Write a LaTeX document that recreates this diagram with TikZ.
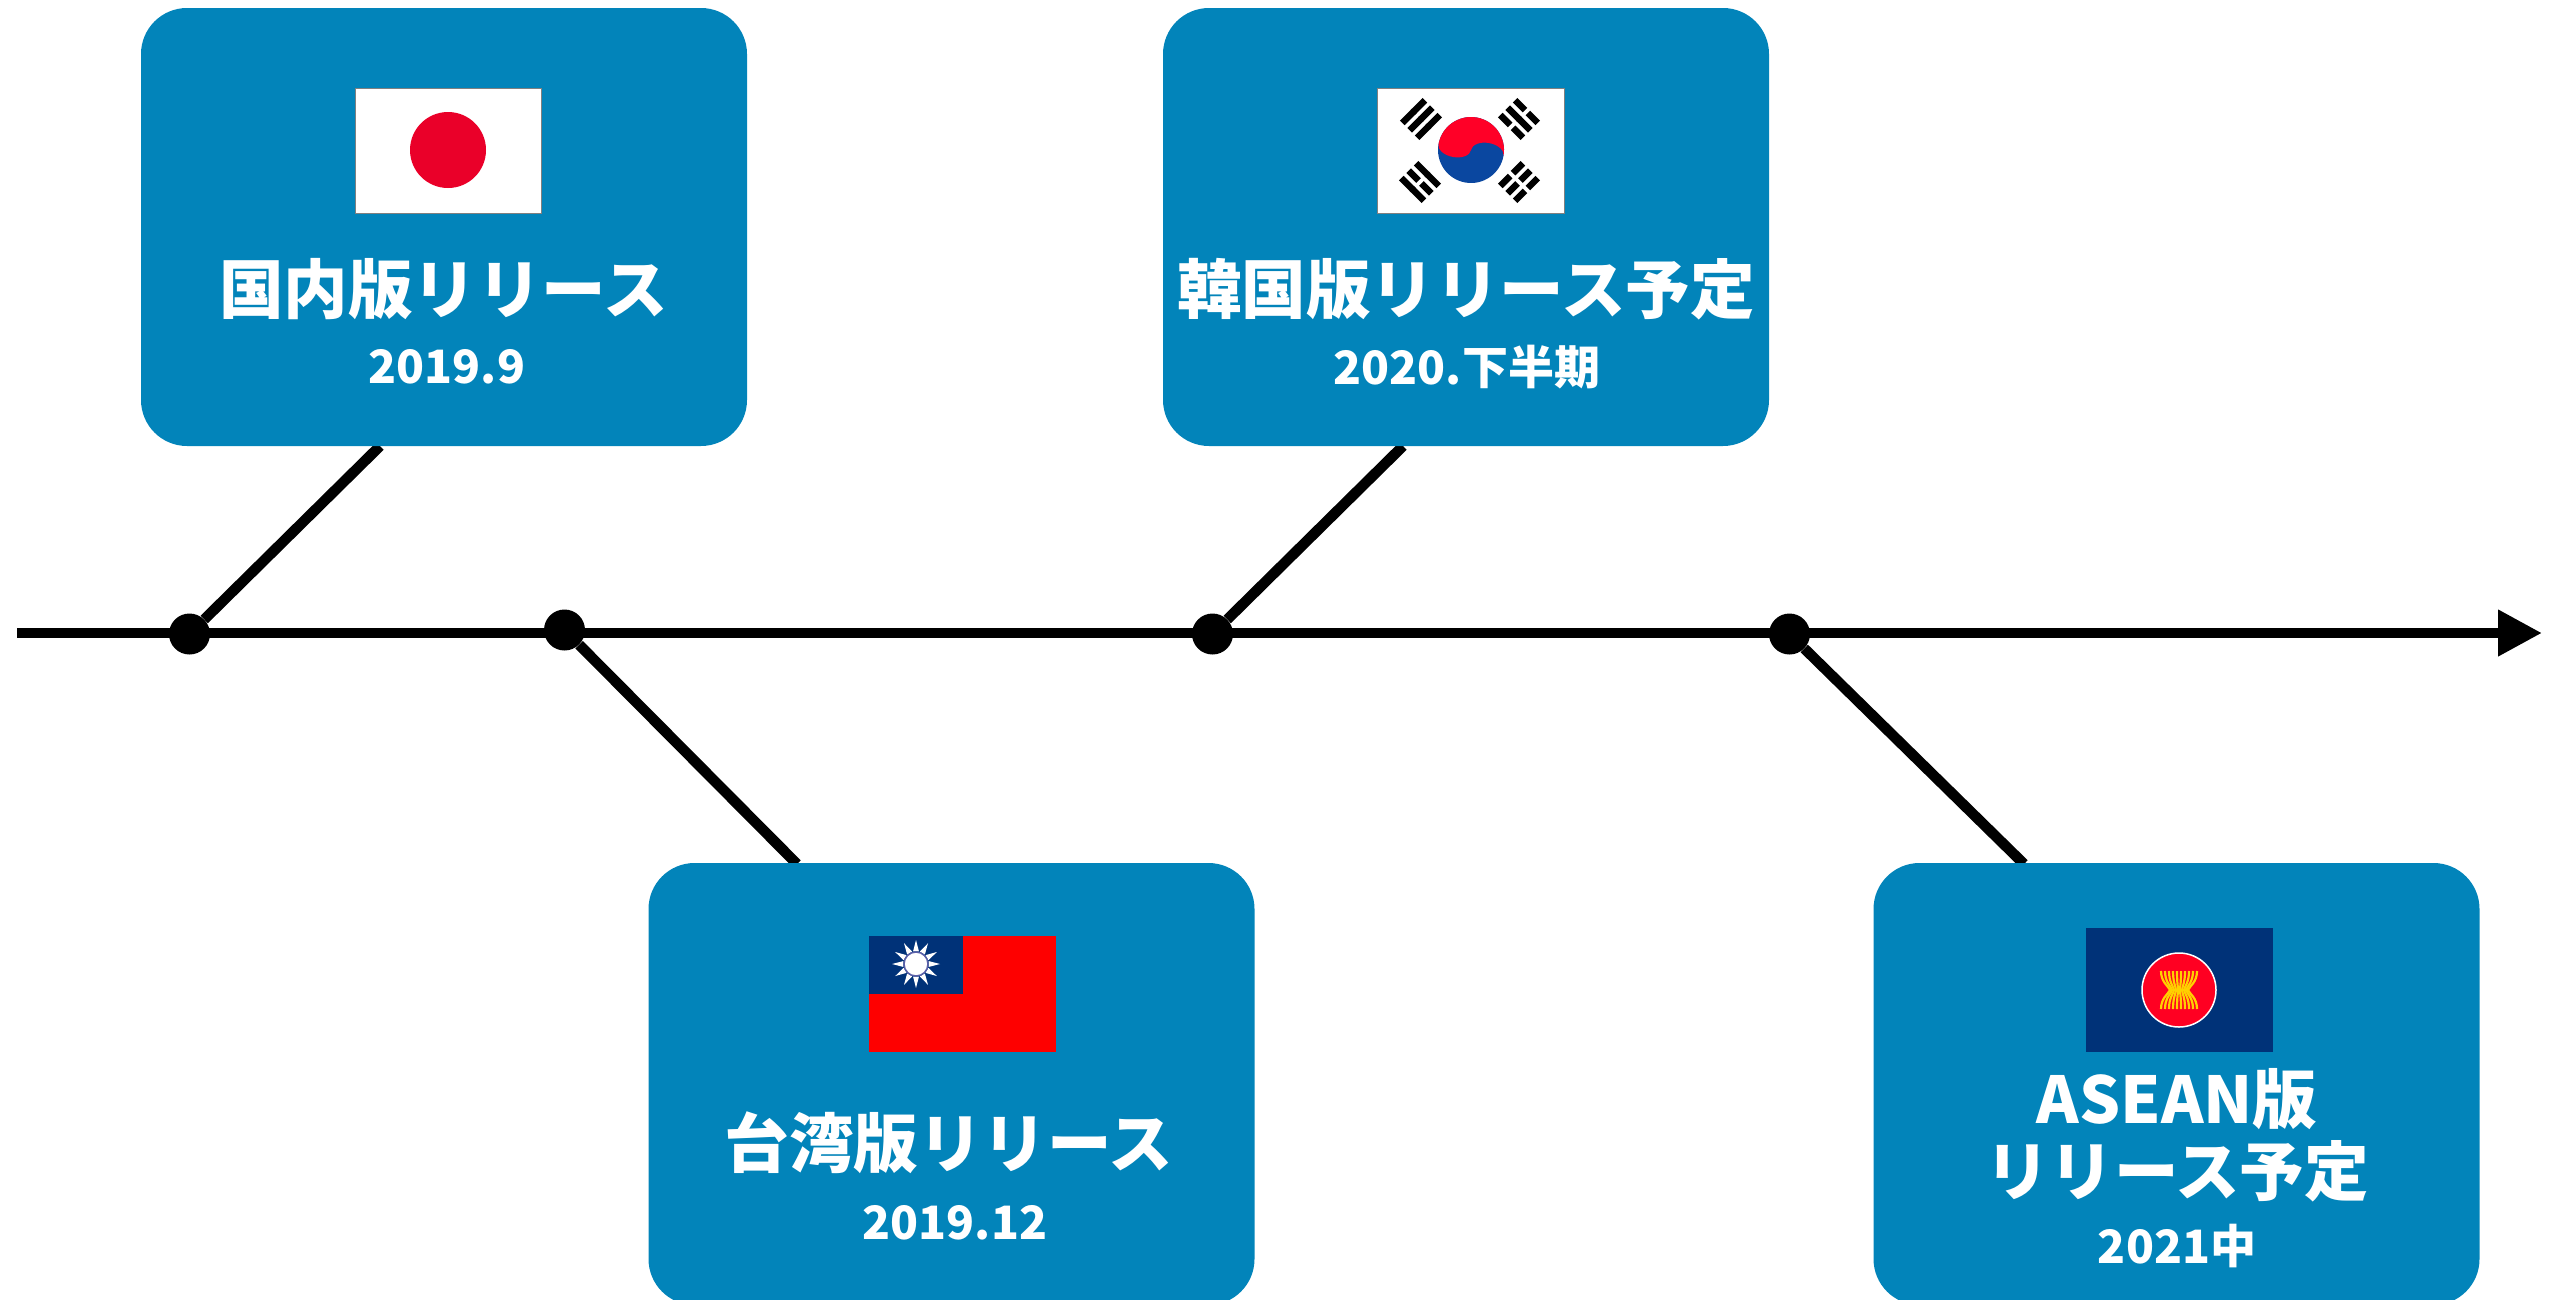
\documentclass[tikz,border=0pt]{standalone}
\usepackage{fontspec}
\setmainfont{Noto Sans CJK JP}
\usetikzlibrary{arrows.meta, backgrounds}

\definecolor{panelblue}{HTML}{0284BA}
\definecolor{navy}{HTML}{003278}
\definecolor{jpred}{HTML}{EA0029}
\definecolor{krred}{HTML}{FF0027}
\definecolor{krblue}{HTML}{0A47A0}
\definecolor{twred}{HTML}{FE0000}
\definecolor{sunring}{HTML}{5A5FA8}
\definecolor{asred}{HTML}{FF0022}
\definecolor{asgold}{HTML}{FFD000}

% one trigram of the Korean flag, gap half-width per bar
\newcommand{\trigram}[6]{
	\begin{scope}[shift={(#1,#2)}, rotate=#3]
		\foreach \offs/\gapw in {-10.5/#4, 0/#5, 10.5/#6} {
			\draw[bar] (-16,\offs) -- (-\gapw,\offs);
			\draw[bar] (\gapw,\offs) -- (16,\offs);
		}
	\end{scope}
}

\begin{document}
\begin{tikzpicture}[x=1pt, y=-1pt,
		panel/.style={rectangle, fill=panelblue, rounded corners=46pt, minimum width=606pt, minimum height=438pt, inner sep=0pt},
		title/.style={text=white, font=\fontsize{64.5}{72}\selectfont\bfseries, align=center, inner sep=0pt},
		subtitle/.style={text=white, font=\fontsize{46}{54}\selectfont\bfseries, inner sep=0pt},
		dotmark/.style={circle, fill=black, minimum size=41pt, inner sep=0pt},
		axisline/.style={line width=10.5pt, black},
		bar/.style={line width=6.5pt, black},
		stalk/.style={line width=2.2pt, asgold},
		flagedge/.style={draw=gray, line width=1pt}]
	\path[use as bounding box, clip] (0,0) rectangle (2564,1299);

	\coordinate (axisL) at (17,633);
	\coordinate (axisR) at (2542,633);
	\coordinate (legJP) at (380,446);
	\coordinate (legTW) at (797,864);
	\coordinate (legKR) at (1403,446);
	\coordinate (legAS) at (2024,864);

	\node[panel] (boxJP) at (444,227) {};
	\node[panel] (boxKR) at (1466,227) {};
	\node[panel, minimum height=442pt] (boxTW) at (951.5,1084) {};
	\node[panel, minimum height=442pt] (boxAS) at (2176.5,1084) {};

	\node[dotmark] (dotJP) at (189.5,634) {};
	\node[dotmark] (dotTW) at (564.5,630) {};
	\node[dotmark] (dotKR) at (1212.5,634) {};
	\node[dotmark] (dotAS) at (1789.5,634) {};

	\begin{scope}[on background layer]
		\draw[axisline, -{Triangle[length=44pt, width=44pt]}] (axisL) -- (axisR);
		\draw[axisline] (dotJP) -- (legJP);
		\draw[axisline] (dotTW) -- (legTW);
		\draw[axisline] (dotKR) -- (legKR);
		\draw[axisline] (dotAS) -- (legAS);
	\end{scope}

	% Japan
	\filldraw[flagedge, fill=white] (355,88) rectangle (541,213);
	\fill[jpred] (448,150) circle (38);
	\node[title] (titleJP) at (443.5,289) {国内版リリース};
	\node[subtitle] (subJP) at (447,367) {2019.9};

	% Korea
	\filldraw[flagedge, fill=white] (1377,88) rectangle (1564,213);
	\begin{scope}[shift={(1471,150)}, rotate=-10]
		\fill[krblue] (0,0) circle (33);
		\fill[krred] (-33,0) arc[start angle=180, end angle=360, radius=33]
			arc[start angle=0, end angle=-180, x radius=16.5, y radius=10]
			arc[start angle=0, end angle=180, x radius=16.5, y radius=10] -- cycle;
	\end{scope}
	\trigram{1421}{119}{45}{-1}{-1}{-1}
	\trigram{1519}{119}{-45}{2}{-1}{2}
	\trigram{1420}{182}{-45}{-1}{2}{-1}
	\trigram{1519}{182}{45}{2}{2}{2}
	\node[title] (titleKR) at (1466,289) {韓国版リリース予定};
	\node[subtitle] (subKR) at (1467,367) {2020.下半期};

	% Taiwan
	\fill[twred] (869,936) rectangle (1056,1052);
	\fill[navy] (869,936) rectangle (963,994);
	\begin{scope}[shift={(916,964)}]
		\foreach \a in {0,30,...,330}
			\fill[white] (\a-13:13) -- (\a:24) -- (\a+13:13) -- cycle;
		\filldraw[draw=sunring, fill=white, line width=1.5pt] (0,0) circle (12);
	\end{scope}
	\node[title] (titleTW) at (949,1143) {台湾版リリース};
	\node[subtitle] (subTW) at (955,1223) {2019.12};

	% ASEAN
	\fill[navy] (2086,928) rectangle (2273,1052);
	\begin{scope}[shift={(2179,990)}]
		\filldraw[draw=white, fill=asred, line width=1.5pt] (0,0) circle (37);
		\foreach \k in {-4.5,-3.5,...,4.5}
			\draw[stalk] (\k*4,-19) .. controls (\k*4,-8) and (\k*2.4,-4) .. (\k*2,0)
				.. controls (\k*2.4,4) and (\k*4,8) .. (\k*4,19);
	\end{scope}
	\node[title] (titleAS) at (2177,1135) {ASEAN版\\リリース予定};
	\node[subtitle] (subAS) at (2177,1246) {2021中};
\end{tikzpicture}
\end{document}
